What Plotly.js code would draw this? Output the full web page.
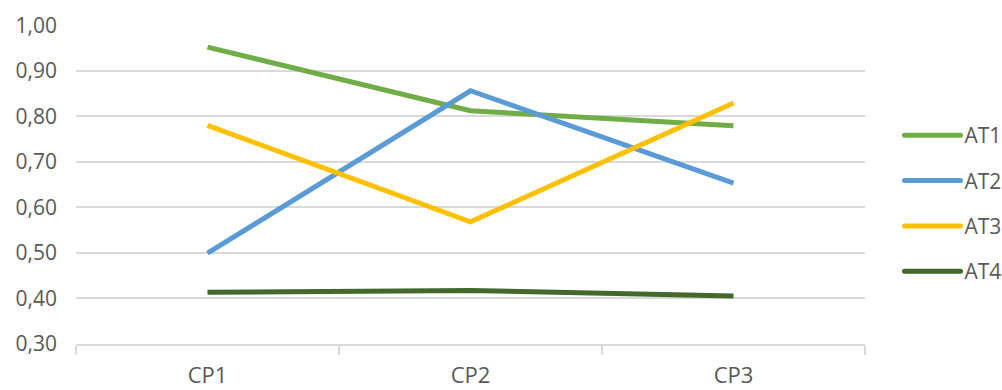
<!DOCTYPE html>
<html>
<head>
<meta charset="utf-8">
<script src="https://cdn.plot.ly/plotly-3.0.1.min.js"></script>
<style>
  html, body { margin: 0; padding: 0; background: #fff; }
  #chart { width: 1002px; height: 390px; }
</style>
</head>
<body>
<div id="chart"></div>
<script>
// Categories and series values
const categories = ["CP1", "CP2", "CP3"];
const seriesNames = ["AT1", "AT2", "AT3", "AT4"];
const at1 = [0.952, 0.812, 0.779];
const at2 = [0.499, 0.856, 0.653];
const at3 = [0.780, 0.568, 0.829];
const at4 = [0.413, 0.417, 0.405];
const yTicks = [0.3, 0.4, 0.5, 0.6, 0.7, 0.8, 0.9, 1.0];

const colors = ["#70AD47", "#5B9BD5", "#FFC000", "#43682B"];
const values = [at1, at2, at3, at4];

const traces = values.map((v, i) => ({
  type: "scatter",
  mode: "lines",
  name: seriesNames[i],
  legendgroup: seriesNames[i],
  x: categories,
  y: v,
  line: { color: colors[i], width: 5 }
}));

const fontFamily = "'Open Sans', sans-serif";

const layout = {
  width: 1002,
  height: 390,
  margin: { l: 76, r: 137, t: 25, b: 46, autoexpand: false },
  paper_bgcolor: "#ffffff",
  plot_bgcolor: "#ffffff",
  separators: ", ",
  font: { family: fontFamily, color: "#595959", size: 21 },
  showlegend: true,
  legend: {
    x: 1.0437, y: 0.44, xanchor: "left", yanchor: "middle",
    font: { size: 21, color: "#595959" },
    traceorder: "grouped",
    tracegroupgap: 15,
    itemwidth: 55
  },
  xaxis: {
    type: "category",
    range: [-0.5, 2.5],
    tickson: "boundaries",
    ticks: "outside",
    ticklen: 9,
    tickcolor: "#D9D9D9",
    tickwidth: 2,
    showline: true,
    linecolor: "#D9D9D9",
    linewidth: 2,
    showgrid: false,
    ticklabelstandoff: 11,
    tickfont: { size: 22, color: "#595959" },
    fixedrange: true
  },
  yaxis: {
    range: [0.2995, 1.0005],
    tickvals: yTicks,
    tickformat: ".2f",
    showgrid: true,
    gridcolor: "#D9D9D9",
    gridwidth: 2,
    zeroline: false,
    showline: false,
    ticks: "",
    ticklabelstandoff: 18,
    tickfont: { size: 21, color: "#595959" },
    fixedrange: true
  }
};

Plotly.newPlot("chart", traces, layout, { displayModeBar: false, staticPlot: true }).then(gd => {
  // Longer legend swatches, in the style of the series lines
  gd.querySelectorAll(".legend .legendlines path").forEach(p => {
    p.setAttribute("d", "M5,0h56");
    p.style.strokeLinecap = "round";
  });
});
</script>
</body>
</html>
